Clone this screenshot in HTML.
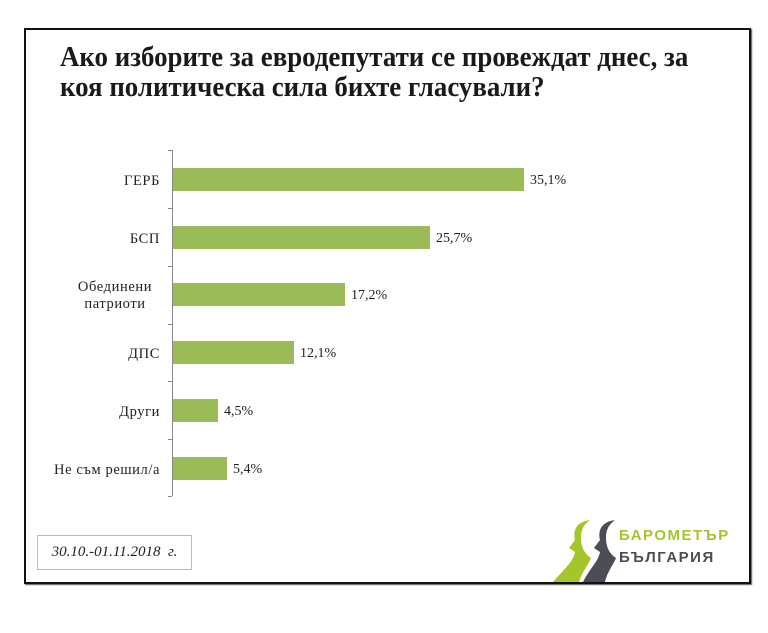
<!DOCTYPE html>
<html><head><meta charset="utf-8"><style>
body{margin:0;width:768px;height:633px;background:#fff;position:relative;overflow:hidden;font-family:"Liberation Serif","DejaVu Serif",serif;}
.frame{position:absolute;left:24px;top:28px;width:723px;height:552px;border:2px solid #111;box-shadow:1px 1px 1px #555;}
.title{position:absolute;left:60px;top:43px;font-weight:bold;font-size:28px;line-height:30px;color:#1a1a1a;transform:scaleX(0.96);transform-origin:left top;white-space:nowrap;}
.lab{position:absolute;font-size:14.5px;color:#222;text-align:center;line-height:17px;letter-spacing:0.6px;}
.bar{position:absolute;left:173px;height:23px;background:#9bbb59;}
.val{position:absolute;font-size:14px;color:#222;}
.axis{position:absolute;left:172px;top:150px;width:1px;height:346px;background:#888;}
.tick{position:absolute;left:168px;width:4px;height:1px;background:#888;}
.date{position:absolute;left:37px;top:535px;width:153px;height:33px;border:1px solid #bbb;font-style:italic;font-size:15px;line-height:33px;text-align:center;color:#222;}
</style></head><body>
<div class="frame"></div>
<div class="title">Ако изборите за евродепутати се провеждат днес, за<br>коя политическа сила бихте гласували?</div>
<div class="axis"></div>
<div class="tick" style="top:150px"></div><div class="tick" style="top:208px"></div><div class="tick" style="top:266px"></div><div class="tick" style="top:324px"></div><div class="tick" style="top:381px"></div><div class="tick" style="top:439px"></div><div class="tick" style="top:496px"></div>

<div class="bar" style="top:168px;width:351px"></div><div class="val" style="left:530px;top:173px">35,1%</div>
<div class="bar" style="top:226px;width:257px"></div><div class="val" style="left:436px;top:231px">25,7%</div>
<div class="bar" style="top:283px;width:172px"></div><div class="val" style="left:351px;top:288px">17,2%</div>
<div class="bar" style="top:341px;width:121px"></div><div class="val" style="left:300px;top:346px">12,1%</div>
<div class="bar" style="top:399px;width:45px"></div><div class="val" style="left:224px;top:404px">4,5%</div>
<div class="bar" style="top:457px;width:54px"></div><div class="val" style="left:233px;top:462px">5,4%</div>

<div class="lab" style="left:80px;width:80px;top:173px;text-align:right">ГЕРБ</div>
<div class="lab" style="left:80px;width:80px;top:231px;text-align:right">БСП</div>
<div class="lab" style="left:60px;width:110px;top:279px;">Обединени<br>патриоти</div>
<div class="lab" style="left:80px;width:80px;top:346px;text-align:right">ДПС</div>
<div class="lab" style="left:80px;width:80px;top:404px;text-align:right">Други</div>
<div class="lab" style="left:10px;width:150px;top:462px;text-align:right">Не съм решил/а</div>

<div class="date">30.10.-01.11.2018&nbsp; г.</div>
<svg style="position:absolute;left:545px;top:518px" width="200" height="64">
<path d="M45 2 C30 4 28 14 30 22 L24 30 L30 34 C28 44 20 50 8 64 L34 64 C38 52 44 46 46 40 C40 36 36 30 36 20 C36 10 40 6 45 2Z" fill="#a4c62a"/>
<path d="M70 2 C55 4 53 14 55 22 L49 30 L55 34 C53 44 45 50 38 64 L60 64 C63 52 69 46 71 40 C65 36 61 30 61 20 C61 10 65 6 70 2Z" fill="#4b4f55"/>
<text x="74" y="22" font-family="Liberation Sans,sans-serif" font-weight="bold" font-size="15" fill="#a4c62a" letter-spacing="1.5">БАРОМЕТЪР</text>
<text x="74" y="44" font-family="Liberation Sans,sans-serif" font-weight="bold" font-size="15" fill="#4b4f55" letter-spacing="1.5">БЪЛГАРИЯ</text>
</svg>
</body></html>
